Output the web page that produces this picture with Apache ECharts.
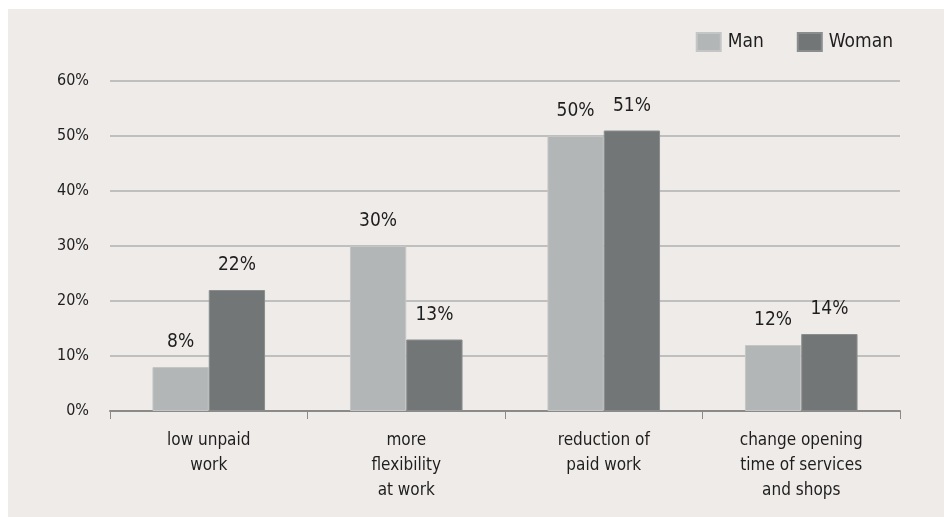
<!DOCTYPE html>
<html><head><meta charset="utf-8">
<script src="https://cdn.jsdelivr.net/npm/echarts@6/dist/echarts.min.js"></script>
<style>html,body{margin:0;padding:0;background:#fff}
#wrap{position:absolute;left:8px;top:9px;width:936px;height:508px;background:#efebe9}
#c{position:absolute;left:0;top:0;width:944px;height:517px}</style>
</head><body><div id="wrap"></div><div id="c"></div>
<script>
const categories = ['low unpaid\nwork', 'more\nflexibility\nat work', 'reduction of\npaid work', 'change opening\ntime of services\nand shops'];
const manValues = [8, 30, 50, 12];
const womanValues = [22, 13, 51, 14];
const yTicks = [0, 10, 20, 30, 40, 50, 60];
const FONT = "'Liberation Sans Narrow','DejaVu Sans Condensed',sans-serif";
const chart = echarts.init(document.getElementById('c'), null, {renderer: 'canvas'});
const labelCfg = {show: true, position: 'top', distance: 15, formatter: p => p.value + '%', color: '#1e1e1e', fontFamily: FONT, fontSize: 19};
chart.setOption({
  backgroundColor: 'transparent',
  animation: false,
  grid: {left: 110, right: 44, top: 81, bottom: 106, containLabel: false},
  legend: {
    top: 27, right: 46, itemWidth: 24, itemHeight: 18, itemGap: 33,
    icon: 'rect',
    textStyle: {fontFamily: FONT, fontSize: 19, color: '#1e1e1e', padding: [0, 0, 0, 2]},
    data: ['Man', 'Woman']
  },
  xAxis: {
    type: 'category', data: categories,
    axisLine: {lineStyle: {color: '#8a8a8a', width: 2}},
    axisTick: {show: true, length: 8, lineStyle: {color: '#8a8a8a', width: 1}},
    axisLabel: {fontFamily: FONT, fontSize: 17, color: '#1e1e1e', lineHeight: 25, margin: 17}
  },
  yAxis: {
    type: 'value', min: 0, max: 60, interval: 10,
    axisLine: {show: false}, axisTick: {show: false},
    splitLine: {lineStyle: {color: '#b0b0b0', width: 1.5}},
    axisLabel: {formatter: v => v + '%', fontFamily: FONT, fontSize: 16, color: '#1e1e1e', margin: 21}
  },
  series: [
    {name: 'Man', type: 'bar', data: manValues, barGap: '0%', barCategoryGap: '43%',
     itemStyle: {color: '#b3b6b6', borderColor: '#c4c6c6', borderWidth: 1}, label: labelCfg},
    {name: 'Woman', type: 'bar', data: womanValues,
     itemStyle: {color: '#737677', borderColor: '#8a8d8e', borderWidth: 1}, label: labelCfg}
  ]
});
</script></body></html>
